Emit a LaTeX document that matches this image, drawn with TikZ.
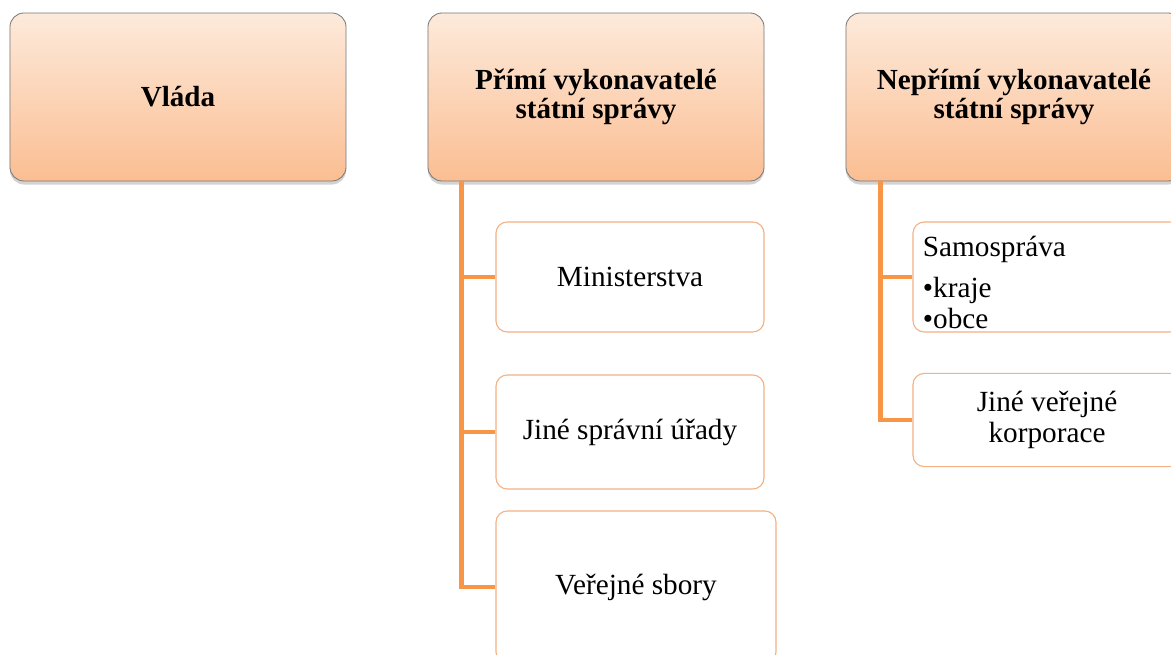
\documentclass[tikz,border=0pt]{standalone}
\usepackage{fontspec}
\setmainfont{Liberation Serif}
\usepackage{tikz}
\usetikzlibrary{calc, shadows}
\definecolor{myorange}{RGB}{247,150,70}
\definecolor{myedge}{RGB}{244,177,131}
\definecolor{mygray}{RGB}{120,120,120}
\definecolor{hdrtop}{RGB}{253,234,219}
\definecolor{hdrbot}{RGB}{251,190,146}
\tikzset{
  headbox/.style={rectangle, draw=mygray, top color=hdrtop, bottom color=hdrbot,
    minimum width=8.4cm, minimum height=4.2cm, align=center,
    font=\fontsize{20.7}{20.5}\selectfont\bfseries, rounded corners=10pt, line width=0.6pt,
    drop shadow={shadow xshift=0pt, shadow yshift=-2.5pt, opacity=0.35}},
  itembox/.style={rectangle, draw=myedge, fill=white,
    minimum width=6.7cm, align=center,
    font=\fontsize{20.8}{21.5}\selectfont, rounded corners=8pt, line width=0.8pt},
  conn/.style={line width=3.5pt, color=myorange}
}

\begin{document}
\begin{tikzpicture}[x=0.025cm, y=-0.025cm]
  \useasboundingbox (0,0) rectangle (1171,655);

  % Heads
  \node[headbox] (vlada) at (178,97) {Vláda};
  \node[headbox] (prim) at (596,97) {Přímí vykonavatelé\\státní správy};
  \node[headbox] (neprim) at (1014,97) {Nepřímí vykonavatelé\\státní správy};

  % Direct branch
  \node[itembox, minimum height=2.75cm] (minist) at (630,277) {Ministerstva};
  \node[itembox, minimum height=2.85cm] (urady) at (630,432) {Jiné správní úřady};
  \node[itembox, minimum width=7cm, minimum height=3.8cm] (sbory) at (636,587) {Veřejné sbory};

  % Indirect branch
  \node[itembox, minimum height=2.75cm, inner ysep=0pt, align=left, text width=6.2cm] (samo) at (1047,277)
    {\rule{0pt}{22pt}Samospráva\\[8pt]•kraje\\•obce};
  \node[itembox, minimum height=2.33cm] (korp) at (1047,420) {Jiné veřejné\\korporace};

  % Connectors
  \coordinate (pa) at ($(prim.south west)+(34,0)$);
  \draw[conn] (pa) |- (sbory.west);
  \draw[conn] (pa |- minist.west) -- (minist.west);
  \draw[conn] (pa |- urady.west) -- (urady.west);
  \coordinate (na) at ($(neprim.south west)+(35,0)$);
  \draw[conn] (na) |- (korp.west);
  \draw[conn] (na |- samo.west) -- (samo.west);
\end{tikzpicture}
\end{document}
